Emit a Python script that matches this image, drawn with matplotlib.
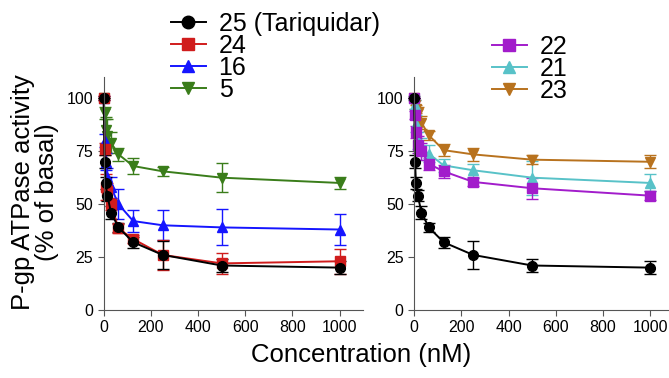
import matplotlib.pyplot as plt
from matplotlib.lines import Line2D

plt.rcParams['font.family'] = ['Liberation Sans', 'DejaVu Sans']

conc = [0, 3.9, 7.8, 15.6, 31.25, 62.5, 125, 250, 500, 1000]

# left panel
c25 = [100, 70, 60, 54, 46, 39, 32, 26, 21, 20]
e25 = [0, 3, 3, 2.5, 3, 2, 2.5, 6.5, 3, 3]
c24 = [100, 76, 58, 56, 50, 38.5, 33.5, 26, 22, 23]
e24 = [1, 3, 6, 4, 3, 2, 2, 7, 5, 6]
c16 = [100, 80, 70, 63, 58, 50, 42, 40, 39, 38]
e16 = [1, 3, 4, 4, 5, 7, 5, 7, 8.5, 7.5]
c5 = [100, 93, 85, 82, 79, 73.5, 68, 65.5, 62.5, 60]
e5 = [1, 3, 6, 8, 5, 3, 4, 2, 7, 3]

# right panel
c22 = [100, 92, 84, 78, 75, 69, 65.5, 60.5, 57.5, 54]
e22 = [0, 2, 3, 4, 4, 3, 3, 2, 5, 2]
c21 = [100, 97, 88, 80, 76, 73.8, 68.3, 66, 62.5, 60]
e21 = [1, 2, 4, 4, 5, 4, 3, 3, 8, 4]
c23 = [100, 97, 95, 93, 88.5, 82.5, 75.5, 73.5, 71, 70]
e23 = [1, 2, 2, 3, 3, 2, 3, 3, 2, 3]

labels_left = ['25 (Tariquidar)', '24', '16', '5']
labels_right = ['22', '21', '23']

col = {'25': '#000000', '24': '#d01c1c', '16': '#1515ff', '5': '#3a7d1a',
       '22': '#a21ccb', '21': '#58c2c8', '23': '#b8721e'}
mk = {'25': 'o', '24': 's', '16': '^', '5': 'v', '22': 's', '21': '^', '23': 'v'}

fig = plt.figure(figsize=(6.69, 3.78), dpi=100)
axL = fig.add_axes([0.155, 0.18, 0.388, 0.616])
axR = fig.add_axes([0.619, 0.18, 0.381, 0.616])


def draw(ax, key, y, e):
    ax.errorbar(conc, y, yerr=e, fmt='-' + mk[key], color=col[key], ms=7,
                lw=1.4, elinewidth=1, capsize=4, capthick=1, clip_on=False)


for key, y, e in [('5', c5, e5), ('16', c16, e16), ('24', c24, e24), ('25', c25, e25)]:
    draw(axL, key, y, e)
for key, y, e in [('23', c23, e23), ('21', c21, e21), ('22', c22, e22), ('25', c25, e25)]:
    draw(axR, key, y, e)

for ax, xmax in [(axL, 1100), (axR, 1080)]:
    ax.set_xlim(0, xmax)
    ax.set_ylim(0, 110)
    ax.set_xticks([0, 200, 400, 600, 800, 1000])
    ax.set_yticks([0, 25, 50, 75, 100])
    for s in ['top', 'right']:
        ax.spines[s].set_visible(False)
    for s in ['left', 'bottom']:
        ax.spines[s].set_color('#555555')
    ax.tick_params(direction='out', length=4, colors='#555555', labelcolor='black',
                   labelsize=11.5)

fig.text(35 / 669, 0.492, 'P-gp ATPase activity\n(% of basal)', fontsize=18.5,
         rotation=90, ha='center', va='center', ma='center', linespacing=0.95)
fig.text(0.54, 0.06, 'Concentration (nM)', fontsize=18.5, ha='center', va='center')


def handles(keys):
    return [Line2D([], [], color=col[k], marker=mk[k], ms=9, lw=1.4) for k in keys]


fig.legend(handles(['25', '24', '16', '5']), labels_left, loc='upper left',
           bbox_to_anchor=(0.255, 0.968), frameon=False, fontsize=18,
           handlelength=1.4, handletextpad=0.52, labelspacing=-0.08,
           borderpad=0, borderaxespad=0)
fig.legend(handles(['22', '21', '23']), labels_right, loc='upper left',
           bbox_to_anchor=(0.735, 0.907), frameon=False, fontsize=18,
           handlelength=1.4, handletextpad=0.52, labelspacing=-0.08,
           borderpad=0, borderaxespad=0)

fig.savefig('out.png', dpi=100)
